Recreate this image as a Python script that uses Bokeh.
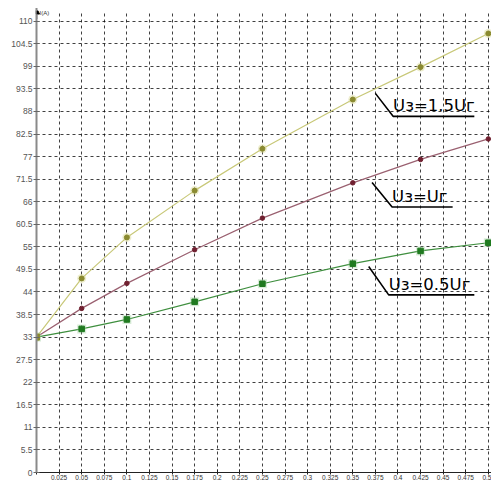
from bokeh.plotting import figure
from bokeh.models import FixedTicker, Range1d, Arrow, NormalHead, Label
from bokeh.core.properties import value
from bokeh.embed import file_html
from bokeh.resources import INLINE

# Axis ticks and their labels
x_ticks = [0, 0.025, 0.05, 0.075, 0.1, 0.125, 0.15, 0.175, 0.2, 0.225, 0.25,
           0.275, 0.3, 0.325, 0.35, 0.375, 0.4, 0.425, 0.45, 0.475, 0.5]
x_tick_labels = ["", "0.025", "0.05", "0.075", "0.1", "0.125", "0.15", "0.175",
                 "0.2", "0.225", "0.25", "0.275", "0.3", "0.325", "0.35",
                 "0.375", "0.4", "0.425", "0.45", "0.475", "0.5"]
y_ticks = [0, 5.5, 11, 16.5, 22, 27.5, 33, 38.5, 44, 49.5, 55, 60.5, 66, 71.5,
           77, 82.5, 88, 93.5, 99, 104.5, 110]
y_tick_labels = ["0", "5.5", "11", "16.5", "22", "27.5", "33", "38.5", "44",
                 "49.5", "55", "60.5", "66", "71.5", "77", "82.5", "88", "93.5",
                 "99", "104.5", "110"]

# Current I(A) against x for three values of Uз
x_pts = [0, 0.05, 0.1, 0.175, 0.25, 0.35, 0.425, 0.5]
i_15 = [33, 47.3, 57.3, 68.7, 78.9, 90.9, 98.8, 107.0]
i_10 = [33, 40.0, 46.1, 54.3, 62.0, 70.6, 76.3, 81.3]
i_05 = [33, 35.0, 37.3, 41.6, 46.0, 50.9, 54.0, 56.0]

series_labels = ["Uз=1.5Uг", "Uз=Uг", "Uз=0.5Uг"]

p = figure(width=491, height=482, output_backend="svg", toolbar_location=None,
           x_range=Range1d(0, 0.5035), y_range=Range1d(0, 112.6),
           min_border_left=36, min_border_right=0, min_border_top=10,
           min_border_bottom=9, background_fill_color="white",
           border_fill_color="white")
p.outline_line_color = None

# dashed grid
for g, ticks in ((p.xgrid, x_ticks[1:]), (p.ygrid, y_ticks[1:])):
    g.ticker = FixedTicker(ticks=ticks)
    g.grid_line_color = "black"
    g.grid_line_dash = "3 3"
    g.grid_line_alpha = 0.75
    g.grid_line_width = 1

# axes
xa = p.xaxis[0]
xa.ticker = FixedTicker(ticks=x_ticks)
xa.major_label_overrides = dict(zip(x_ticks, x_tick_labels))
xa.axis_line_color = "#222222"
xa.major_tick_line_color = "#222222"
xa.major_tick_in = 3
xa.major_tick_out = 2
xa.minor_tick_line_color = None
xa.major_label_standoff = 0
xa.major_label_text_font = "Liberation Sans"
xa.major_label_text_font_size = "6.5px"
xa.major_label_text_color = "#333333"

ya = p.yaxis[0]
ya.ticker = FixedTicker(ticks=y_ticks)
ya.major_label_overrides = dict(zip(y_ticks, y_tick_labels))
ya.axis_line_color = "#8a8a8a"
ya.axis_line_width = 2
ya.major_tick_line_color = "#666666"
ya.major_tick_in = 3
ya.major_tick_out = 3
ya.minor_tick_line_color = None
ya.major_label_standoff = 1
ya.major_label_text_font = "Liberation Sans"
ya.major_label_text_font_size = "8.5px"
ya.major_label_text_color = "#555555"

# axis arrow and unit
p.add_layout(Arrow(end=NormalHead(size=6, fill_color="black", line_color="black"),
                   x_start=0, y_start=110.5, x_end=0, y_end=113.2,
                   line_color="#8a8a8a", line_width=2))
p.add_layout(Label(x=0, y=112.0, text="I(A)", x_offset=3,
                   text_font="Liberation Sans", text_font_size="6px",
                   text_color="#333333", text_baseline="middle"))

# series
p.line(x_pts, i_15, line_color="#c8c878", line_width=1.2)
p.scatter(x_pts, i_15, size=9, fill_color="#d8d890", line_color=None, alpha=0.45)
p.scatter(x_pts, i_15, size=5, fill_color="#8a8a30", line_color="#8a8a30")

p.line(x_pts, i_10, line_color="#9a6070", line_width=1.2)
p.scatter(x_pts[1:], i_10[1:], size=4.5, fill_color="#702030", line_color="#702030")

p.line(x_pts, i_05, line_color="#3f8f3f", line_width=1.2)
p.scatter(x_pts, i_05, size=9, marker="square", fill_color="#a0d0a0",
          line_color=None, alpha=0.4)
p.scatter(x_pts[1:], i_05[1:], size=5.5, marker="square", fill_color="#207a20",
          line_color="#207a20")
p.scatter([x_pts[0]], [i_05[0]], size=6, marker="square", fill_color="#8a8a30",
          line_color="#8a8a30")

# callout labels: leader line start, bend point, underline end
callouts = [
    (series_labels[0], (0.375, 92.4), (0.3946, 86.8), 0.4845),
    (series_labels[1], (0.3713, 70.7), (0.3935, 64.7), 0.4605),
    (series_labels[2], (0.3676, 50.2), (0.3897, 43.3), 0.4845),
]
for text, start, bend, end_x in callouts:
    p.line([start[0], bend[0], end_x], [start[1], bend[1], bend[1]],
           line_color="black", line_width=1.6)
    p.text(x=[bend[0]], y=[bend[1]], text=[text], y_offset=-1,
           text_font=value("DejaVu Sans"), text_font_size="16.5px",
           text_color="black", text_baseline="bottom", text_align="left")

open("out.html", "w").write(file_html(p, INLINE))
